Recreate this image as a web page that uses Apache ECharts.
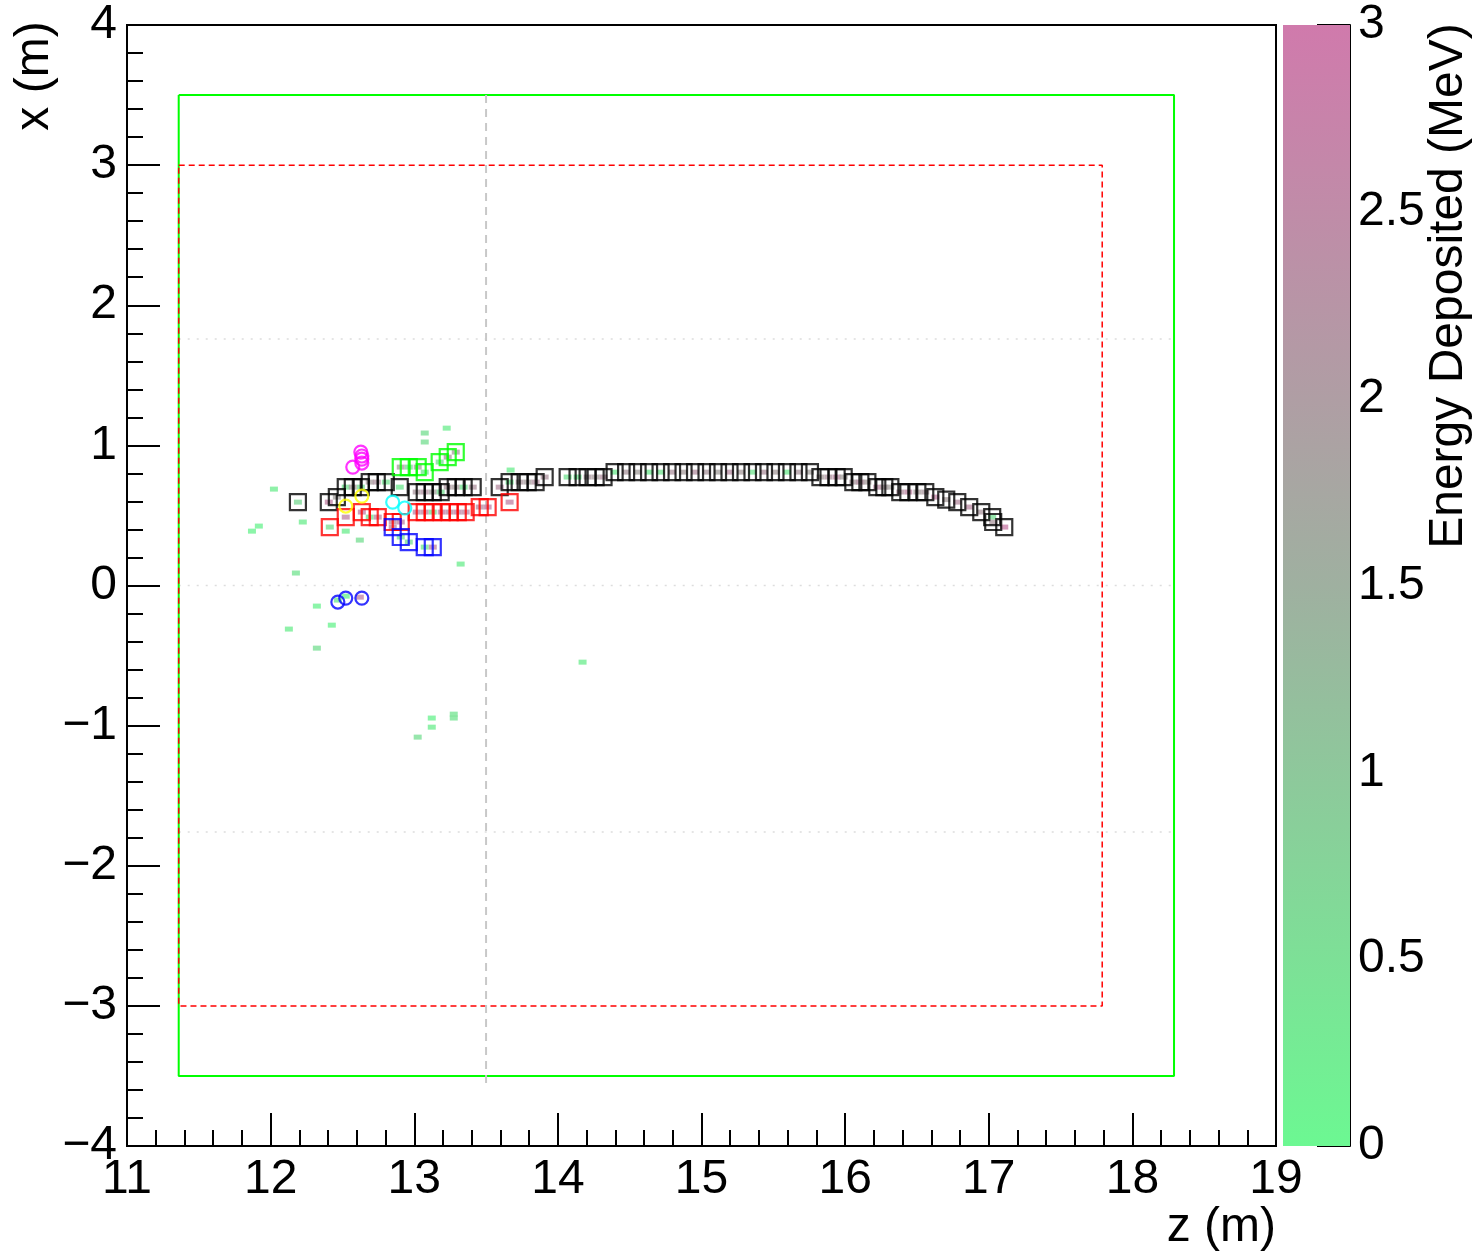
<!DOCTYPE html>
<html><head><meta charset="utf-8">
<script src="https://cdn.jsdelivr.net/npm/echarts@6/dist/echarts.min.js"></script>
<style>html,body{margin:0;padding:0;background:#fff}#c{width:1482px;height:1254px}</style>
</head><body><div id="c"></div>
<script>
// ---------------- DATA ----------------
const zTicks = [11, 12, 13, 14, 15, 16, 17, 18, 19];
const xTicks = [-4, -3, -2, -1, 0, 1, 2, 3, 4];
const energyTicks = [0, 0.5, 1, 1.5, 2, 2.5, 3];

// Black track (open squares) [z, x]
const blackTrack = [
 [12.19,0.595],[12.405,0.595],[12.461,0.631],[12.523,0.702],[12.572,0.702],[12.628,0.702],
 [12.69,0.738],[12.739,0.738],[12.802,0.738],[12.899,0.702],[13.017,0.667],[13.073,0.667],
 [13.129,0.667],[13.184,0.667],[13.233,0.702],[13.289,0.702],[13.344,0.702],[13.407,0.702],
 [13.595,0.702],[13.664,0.738],[13.734,0.738],[13.79,0.738],[13.845,0.738],[13.908,0.774],
 [14.068,0.774],[14.137,0.774],[14.207,0.774],[14.263,0.774],[14.318,0.774],
 [14.395,0.809],[14.475,0.809],[14.555,0.809],[14.635,0.809],[14.715,0.809],[14.795,0.809],
 [14.875,0.809],[14.955,0.809],[15.035,0.809],[15.115,0.809],[15.195,0.809],[15.275,0.809],
 [15.355,0.809],[15.435,0.809],[15.515,0.809],[15.595,0.809],[15.675,0.809],[15.755,0.809],
 [15.828,0.774],[15.884,0.774],[15.941,0.774],[15.99,0.774],
 [16.057,0.738],[16.106,0.738],[16.155,0.738],
 [16.224,0.702],[16.273,0.702],[16.315,0.702],
 [16.384,0.667],[16.44,0.667],[16.503,0.667],[16.558,0.667],
 [16.628,0.631],[16.704,0.613],[16.781,0.595],[16.864,0.56],[16.948,0.524],
 [17.024,0.488],[17.031,0.453],[17.108,0.417]
];
const blackTrackE = [
 0.6,2.6,1.8,0.4,1.9,0.5,1.9,2.1,0.4,0.3,2.0,2.2,1.8,0.5,2.0,1.9,0.4,2.1,2.3,0.3,2.0,1.9,2.2,2.1,
 0.4,0.3,2.0,1.9,2.2,
 0.3,2.0,1.8,0.3,0.4,2.1,1.9,2.2,2.0,1.8,2.3,1.9,0.4,2.1,1.9,0.3,2.0,1.8,
 1.9,2.1,2.4,1.8, 2.0,2.3,1.9, 2.4,2.0,1.8, 2.2,2.5,1.9,2.0,
 2.6,1.9,2.3,2.4,2.0,0.5,2.0,2.8
];

// Red track (open squares)
const redTrack = [
 [12.412,0.417],[12.523,0.488],[12.635,0.524],[12.69,0.488],[12.746,0.488],[12.85,0.453],
 [12.906,0.453],[13.017,0.524],[13.073,0.524],[13.129,0.524],[13.191,0.524],[13.247,0.524],
 [13.303,0.524],[13.358,0.524],[13.456,0.56],[13.511,0.56],[13.664,0.595]
];
const redTrackE = [0.5,2.6,2.7,0.4,2.5,2.4,2.6,2.6,2.5,0.5,2.7,2.4,2.6,2.5,2.3,2.7,2.6];

// Blue track (open squares)
const blueTrack = [[12.85,0.417],[12.906,0.346],[12.962,0.31],[13.073,0.274],[13.129,0.274]];
const blueTrackE = [2.5,0.4,0.5,0.3,2.6];

// Green track (open squares)
const greenTrack = [[12.906,0.845],[12.962,0.845],[13.024,0.845],[13.073,0.809],[13.177,0.881],[13.233,0.916],[13.289,0.952]];
const greenTrackE = [1.9,0.5,1.8,0.4,0.5,2.0,1.9];

// Open circles
const magentaHits = [[12.572,0.845],[12.628,0.952],[12.635,0.924],[12.635,0.902],[12.635,0.874]];
const yellowHits = [[12.523,0.567],[12.635,0.638]];
const cyanHits = [[12.85,0.595],[12.934,0.553]];
const blueHits = [[12.468,-0.118],[12.523,-0.09],[12.635,-0.09]];

// Isolated energy deposits [z, x, E(MeV)]
const looseDeposits = [
 [13.226,1.123,0.2],[13.073,1.088,0.5],[13.073,1.024,0.5],[12.023,0.688,0.2],[12.224,0.453,0.2],
 [11.918,0.424,0.1],[11.87,0.388,0.1],[12.523,0.388,0.2],[12.621,0.324,0.5],[12.176,0.089,0.4],
 [13.323,0.153,0.2],[13.671,0.824,0.2],[12.322,-0.147,0.1],[12.426,-0.283,0.1],[12.127,-0.311,0.2],
 [12.322,-0.447,0.5],[13.122,-0.946,0.1],[13.275,-0.918,0.4],[13.275,-0.946,0.4],[13.122,-1.011,0.2],
 [13.024,-1.082,0.5],[14.172,-0.547,0.2],[12.468,-0.104,0.3],[12.523,-0.076,0.1],[12.621,-0.083,2.6]
];

// Detector outlines [z, x]
const outerBox = [[11.36,3.5],[18.29,3.5],[18.29,-3.5],[11.36,-3.5],[11.36,3.5]];
const innerBox = [[11.36,3.0],[17.79,3.0],[17.79,-3.0],[11.36,-3.0],[11.36,3.0]];
const divider = [[13.5,3.5],[13.5,-3.55]];
const guideTop = [[11.36,1.76],[18.29,1.76]];
const guideMid = [[11.36,0],[18.29,0]];
const guideBot = [[11.36,-1.76],[18.29,-1.76]];

// ---------------- BUILD ----------------
const palette = ['#6cf892', '#9fb0a0', '#d07aac'];
function withE(pts, es) { return pts.map((p, i) => [p[0], p[1], es[i]]); }
const deposits = looseDeposits
  .concat(withE(blackTrack, blackTrackE))
  .concat(withE(redTrack, redTrackE))
  .concat(withE(blueTrack, blueTrackE))
  .concat(withE(greenTrack, greenTrackE));

const FONT = 'Liberation Sans, Arial, sans-serif';
const FS = 48;
const minus = v => (v < 0 ? '\u2212' + Math.abs(v) : String(v));

function lineSeries(data, color, width, type) {
  return { type: 'line', xAxisIndex: 0, yAxisIndex: 0, data, symbol: 'none', silent: true,
    lineStyle: { color, width, type }, z: 2 };
}
function squares(data, color) {
  return { type: 'scatter', data, symbol: 'rect', symbolSize: 16, silent: true, z: 4,
    itemStyle: { color: 'rgba(0,0,0,0)', borderColor: color, borderWidth: 2.2 } };
}
function circles(data, color) {
  return { type: 'scatter', data, symbol: 'circle', symbolSize: 13, silent: true, z: 5,
    itemStyle: { color: 'rgba(0,0,0,0)', borderColor: color, borderWidth: 2.2 } };
}

const chart = echarts.init(document.getElementById('c'), null, { renderer: 'canvas' });
const series = [
  lineSeries(guideTop, '#dddddd', 1.5, [2, 7]),
  lineSeries(guideMid, '#dddddd', 1.5, [2, 7]),
  lineSeries(guideBot, '#dddddd', 1.5, [2, 7]),
  lineSeries(outerBox, '#00ff00', 2, 'solid'),
  lineSeries(innerBox, '#ff0000', 1.5, [6, 4]),
  lineSeries(divider, '#c8c8c8', 2, [8, 6]),
  { type: 'scatter', data: deposits, symbol: 'rect', symbolSize: [8, 5], silent: true, z: 3 },
  squares(blackTrack, '#000000'),
  squares(redTrack, '#ff0000'),
  squares(blueTrack, '#0000ff'),
  squares(greenTrack, '#00ff00'),
  circles(magentaHits, '#ff00ff'),
  circles(yellowHits, '#ffff00'),
  circles(cyanHits, '#00ffff'),
  circles(blueHits, '#0000ff'),
  { type: 'bar', xAxisIndex: 1, yAxisIndex: 1, data: [energyTicks[energyTicks.length - 1]],
    barWidth: '100%', silent: true,
    itemStyle: { color: { type: 'linear', x: 0, y: 1, x2: 0, y2: 0,
      colorStops: [{ offset: 0, color: palette[0] }, { offset: 0.5, color: palette[1] }, { offset: 1, color: palette[2] }] } } }
];

const axisTxt = { fontFamily: FONT, fontSize: FS, color: '#000' };
chart.setOption({
  animation: false,
  backgroundColor: '#fff',
  grid: [
    { left: 127, right: 206, top: 25, bottom: 108, show: true, borderColor: '#000', borderWidth: 2, backgroundColor: 'transparent' },
    { left: 1283, width: 67, top: 25, bottom: 108 }
  ],
  xAxis: [
    { gridIndex: 0, type: 'value', min: zTicks[0], max: zTicks[zTicks.length - 1], interval: 1,
      axisLine: { show: true, onZero: false, lineStyle: { color: '#000', width: 2 } },
      axisTick: { show: true, inside: true, length: 33, lineStyle: { color: '#000', width: 2 } },
      minorTick: { show: true, splitNumber: 5, length: 16, lineStyle: { color: '#000', width: 2 } },
      splitLine: { show: false },
      axisLabel: Object.assign({ margin: 10 }, axisTxt) },
    { gridIndex: 1, type: 'category', data: ['E'], show: false, boundaryGap: true }
  ],
  yAxis: [
    { gridIndex: 0, type: 'value', min: xTicks[0], max: xTicks[xTicks.length - 1], interval: 1,
      axisLine: { show: true, onZero: false, lineStyle: { color: '#000', width: 2 } },
      axisTick: { show: true, inside: true, length: 33, lineStyle: { color: '#000', width: 2 } },
      minorTick: { show: true, splitNumber: 5, length: 16, lineStyle: { color: '#000', width: 2 } },
      splitLine: { show: false },
      axisLabel: Object.assign({ margin: 10, formatter: minus }, axisTxt) },
    { gridIndex: 1, type: 'value', min: energyTicks[0], max: energyTicks[energyTicks.length - 1], interval: 0.5,
      position: 'right',
      axisLine: { show: true, lineStyle: { color: '#000', width: 2 } },
      axisTick: { show: true, inside: true, length: 33, lineStyle: { color: '#000', width: 2 } },
      splitLine: { show: false },
      axisLabel: Object.assign({ margin: 8 }, axisTxt) }
  ],
  visualMap: { show: false, type: 'continuous', dimension: 2, min: 0, max: 3, seriesIndex: 6,
    inRange: { color: palette } },
  graphic: [
    { type: 'text', x: 1276, y: 1228,
      style: { text: 'z (m)', font: FS + 'px ' + FONT, fill: '#000', align: 'right', verticalAlign: 'middle' } },
    { type: 'text', x: 35, y: 76, rotation: Math.PI / 2,
      style: { text: 'x (m)', font: FS + 'px ' + FONT, fill: '#000', align: 'center', verticalAlign: 'middle' } },
    { type: 'text', x: 1449, y: 286, rotation: Math.PI / 2,
      style: { text: 'Energy Deposited (MeV)', font: FS + 'px ' + FONT, fill: '#000', align: 'center', verticalAlign: 'middle' } }
  ],
  series
});
</script>
</body></html>
